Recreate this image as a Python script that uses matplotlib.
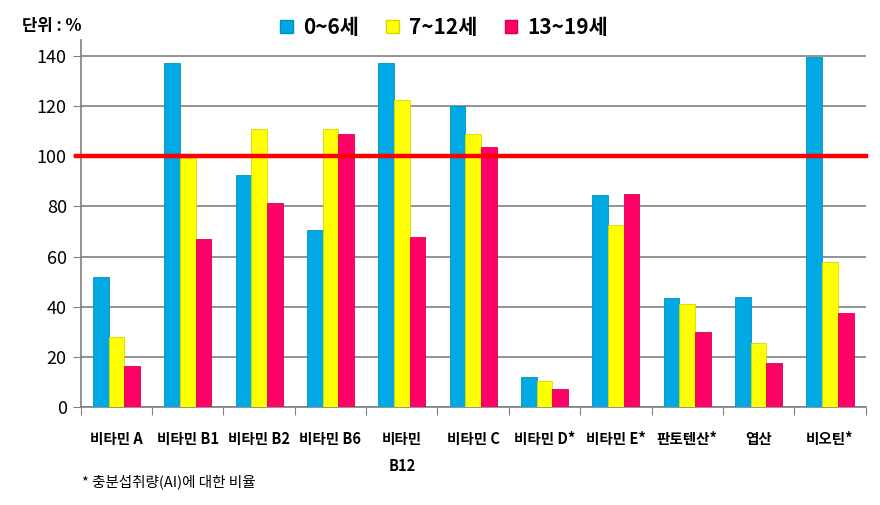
import numpy as np
import matplotlib
matplotlib.use("Agg")
import matplotlib.pyplot as plt
from matplotlib.patches import Patch

plt.rcParams['font.family'] = ['Noto Sans CJK KR', 'DejaVu Sans']

categories = ['비타민 A', '비타민 B1', '비타민 B2', '비타민 B6', '비타민\nB12', '비타민 C',
              '비타민 D*', '비타민 E*', '판토텐산*', '엽산', '비오틴*']
age_0_6 = [52, 137, 92.5, 70.5, 137, 120, 12, 84.5, 43.5, 44, 139.5]
age_7_12 = [28, 99.5, 111, 111, 122.5, 109, 10.5, 72.5, 41, 25.5, 58]
age_13_19 = [16.5, 67, 81.5, 109, 68, 103.5, 7, 85, 30, 17.5, 37.5]
series_names = ['0~6세', '7~12세', '13~19세']
colors = ['#00a8e4', '#ffff00', '#ff0066']
edges = ['#0090c4', '#d8d800', '#d80058']

fig = plt.figure(figsize=(8.8, 5.05), dpi=100)
ax = fig.add_axes([0.0917, 0.194, 0.892, 0.727])

x = np.arange(len(categories))
w = 0.22
for i, vals in enumerate([age_0_6, age_7_12, age_13_19]):
    ax.bar(x + (i - 1) * w, vals, width=w, color=colors[i], edgecolor=edges[i],
           linewidth=0.6, zorder=3)

# 100% reference line
ax.axhline(100, color='#ff0000', linewidth=3.2, zorder=4, xmin=-0.006, clip_on=False)

ax.set_xlim(-0.5, len(categories) - 0.5)
ax.set_ylim(0, 146.4)
ax.set_yticks(np.arange(0, 141, 20))
ax.tick_params(axis='y', labelsize=13, length=6, color='#808080', pad=4)
ax.yaxis.grid(True, color='#808080', linewidth=1.2, zorder=0)
ax.set_xticks(np.arange(-0.5, len(categories), 1), minor=False)
ax.set_xticklabels([])
ax.tick_params(axis='x', length=6, color='#808080')
ax.set_xticks(x, minor=True)
ax.set_xticklabels(categories, minor=True, fontsize=10.5, fontweight='bold', linespacing=1.9,
                   va='top')
ax.tick_params(axis='x', which='minor', length=0, pad=17)
for s in ['top', 'right']:
    ax.spines[s].set_visible(False)
ax.spines['left'].set_color('#808080')
ax.spines['bottom'].set_color('#808080')
ax.spines['left'].set_linewidth(1.2)
ax.spines['bottom'].set_linewidth(1.2)

handles = [Patch(facecolor=c, edgecolor=e) for c, e in zip(colors, edges)]
fig.legend(handles, series_names, loc='center', bbox_to_anchor=(0.505, 1 - 27 / 505), ncol=3,
           frameon=False, prop={'size': 15, 'weight': 'bold'}, handlelength=0.6,
           handleheight=0.6, handletextpad=0.5, columnspacing=1.3)

fig.text(22 / 880, 1 - 26 / 505, '단위 : %', fontsize=12, fontweight='bold', va='center')
fig.text(82 / 880, 1 - 482 / 505, '* 충분섭취량(AI)에 대한 비율', fontsize=10.5, va='center')

fig.savefig('out.png', dpi=100)
